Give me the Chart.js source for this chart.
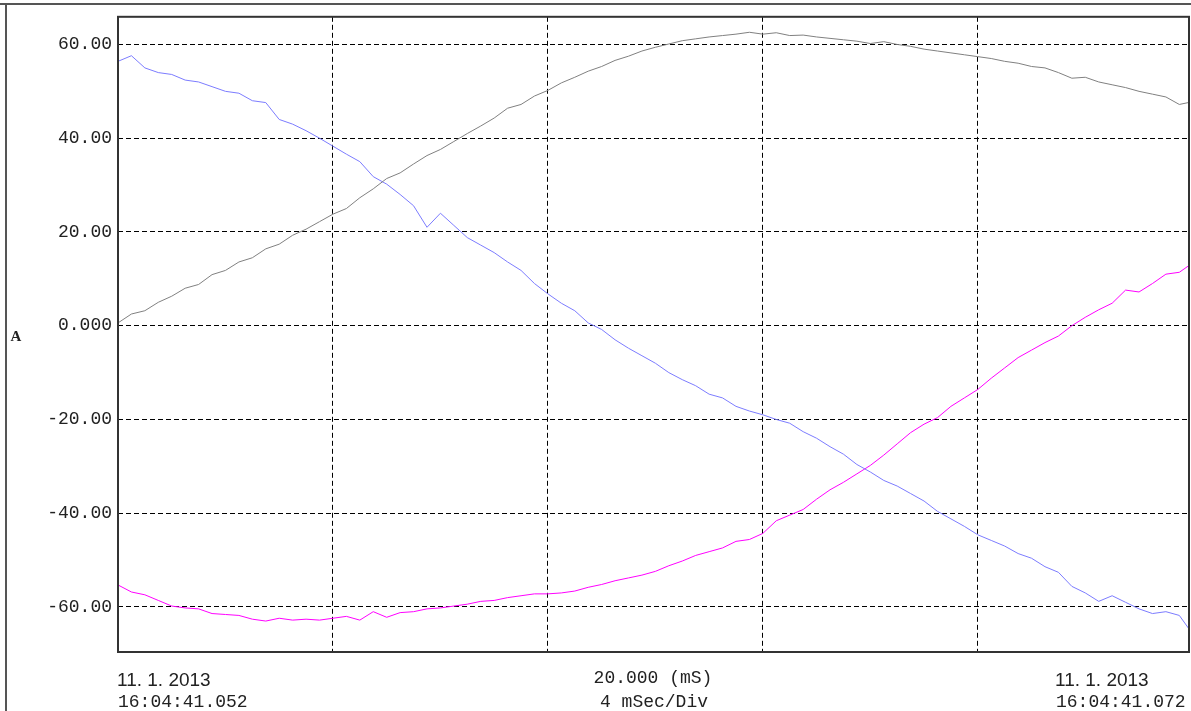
<!DOCTYPE html>
<html>
<head>
<meta charset="utf-8">
<script src="https://cdn.jsdelivr.net/npm/chart.js@4/dist/chart.umd.min.js"></script>
<style>
  body { margin: 0; background: #fff; }
  #wrap { width: 1191px; height: 711px; }
</style>
</head>
<body>
<div id="wrap"><canvas id="scope" width="1191" height="711"></canvas></div>
<script>
// time in ms, one sample every 0.25 ms
var times = [0,0.25,0.5,0.75,1,1.25,1.5,1.75,2,2.25,2.5,2.75,3,3.25,3.5,3.75,4,4.25,4.5,4.75,
  5,5.25,5.5,5.75,6,6.25,6.5,6.75,7,7.25,7.5,7.75,8,8.25,8.5,8.75,9,9.25,9.5,9.75,
  10,10.25,10.5,10.75,11,11.25,11.5,11.75,12,12.25,12.5,12.75,13,13.25,13.5,13.75,14,14.25,14.5,14.75,
  15,15.25,15.5,15.75,16,16.25,16.5,16.75,17,17.25,17.5,17.75,18,18.25,18.5,18.75,19,19.25,19.5,19.75,20];

var grayA = [0.6,2.5,3.2,5.0,6.3,8.0,8.8,10.9,11.8,13.6,14.5,16.4,17.4,19.3,20.6,22.2,23.8,25.0,27.3,29.2,
  31.4,32.6,34.5,36.3,37.6,39.3,41.0,42.6,44.3,46.4,47.2,49.0,50.2,51.8,53.0,54.3,55.3,56.6,57.5,58.6,
  59.4,60.1,60.8,61.2,61.6,61.9,62.2,62.6,62.2,62.5,61.9,62.0,61.6,61.3,61.0,60.7,60.2,60.6,60.0,59.6,
  59.0,58.6,58.2,57.8,57.4,57.0,56.4,56.0,55.3,55.0,54.0,52.8,53.0,52.0,51.4,50.8,50.0,49.4,48.8,47.2,47.8];

var blueA = [56.4,57.6,55.0,54.0,53.6,52.4,52.0,51.0,50.0,49.6,48.0,47.6,44.0,43.0,41.6,40.0,38.3,36.6,35.0,31.8,
  30.2,28.0,25.6,21.0,24.0,21.4,18.8,17.2,15.6,13.6,11.8,9.0,6.8,4.8,3.2,0.6,-0.8,-3.0,-4.8,-6.4,
  -8.0,-10.0,-11.5,-12.8,-14.6,-15.4,-17.2,-18.2,-19.0,-20.0,-20.8,-22.6,-24.0,-25.8,-27.4,-29.6,-31.2,-33.0,-34.2,-35.8,
  -37.4,-39.6,-41.2,-42.8,-44.6,-45.8,-47.0,-48.6,-49.6,-51.4,-52.6,-55.6,-57.0,-58.8,-57.6,-59.0,-60.4,-61.4,-61.0,-61.8,-65.8];

var magentaA = [-55.3,-56.8,-57.4,-58.6,-59.8,-60.2,-60.4,-61.4,-61.6,-61.8,-62.6,-63.0,-62.4,-62.8,-62.6,-62.8,-62.4,-62.0,-62.8,-61.0,
  -62.2,-61.2,-61.0,-60.4,-60.2,-59.8,-59.4,-58.8,-58.6,-58.0,-57.6,-57.2,-57.2,-57.0,-56.6,-55.8,-55.2,-54.4,-53.8,-53.2,
  -52.4,-51.2,-50.2,-49.0,-48.2,-47.4,-46.0,-45.6,-44.3,-41.6,-40.4,-39.2,-37.0,-35.0,-33.4,-31.6,-29.8,-27.6,-25.2,-22.8,
  -21.0,-19.6,-17.2,-15.4,-13.6,-11.2,-9.0,-6.8,-5.2,-3.6,-2.2,0.0,1.8,3.4,4.8,7.6,7.2,9.0,11.0,11.4,13.4];

var yTicks = [-60, -40, -20, 0, 20, 40, 60];
var yTickLabels = ['-60.00', '-40.00', '-20.00', '0.000', '20.00', '40.00', '60.00'];

function pts(vals) {
  return vals.map(function (v, i) { return { x: times[i], y: v }; });
}

var scopeFrame = {
  id: 'scopeFrame',
  afterDraw: function (chart) {
    var c = chart.ctx, a = chart.chartArea;
    c.save();
    // outer window lines
    c.strokeStyle = '#555';
    c.lineWidth = 2;
    c.beginPath();
    c.moveTo(0, 4); c.lineTo(1191, 4);
    c.moveTo(6, 4); c.lineTo(6, 711);
    c.stroke();
    // plot border
    c.strokeStyle = '#333';
    c.lineWidth = 2;
    c.strokeRect(a.left, a.top, a.right - a.left, a.bottom - a.top);
    // unit label
    c.fillStyle = '#222';
    c.font = 'bold 15px "Liberation Serif"';
    c.textAlign = 'center';
    c.textBaseline = 'middle';
    c.fillText('A', 16, 337);
    // bottom texts
    c.textBaseline = 'alphabetic';
    c.textAlign = 'left';
    c.font = '19px "Liberation Sans"';
    c.fillText('11. 1. 2013', 117, 686);
    c.fillText('11. 1. 2013', 1055, 686);
    c.font = '18px "Liberation Mono"';
    c.fillText('16:04:41.052', 118, 707);
    c.fillText('16:04:41.072', 1056, 707);
    c.textAlign = 'center';
    c.fillText('20.000 (mS)', 653, 683);
    c.fillText('4 mSec/Div', 654, 707);
    c.restore();
  }
};

new Chart('scope', {
  type: 'line',
  data: {
    datasets: [
      { data: pts(grayA), borderColor: '#808080' },
      { data: pts(blueA), borderColor: '#7c7cff' },
      { data: pts(magentaA), borderColor: '#ff00ff' }
    ]
  },
  options: {
    responsive: false,
    animation: false,
    layout: { padding: { top: 15, right: 2, left: 0, bottom: 0 } },
    elements: {
      point: { radius: 0 },
      line: { borderWidth: 1, tension: 0 }
    },
    plugins: { legend: { display: false }, tooltip: { enabled: false } },
    scales: {
      x: {
        type: 'linear',
        min: 0, max: 19.93,
        afterBuildTicks: function (s) {
          s.ticks = [0, 4, 8, 12, 16].map(function (v) { return { value: v }; });
        },
        ticks: { display: false },
        grid: { color: '#000', lineWidth: 1, drawTicks: false },
        border: { display: false, dash: [5, 3] },
        afterFit: function (s) { s.height = 59; }
      },
      y: {
        min: -69.6, max: 65.9,
        afterBuildTicks: function (s) {
          s.ticks = yTicks.map(function (v) { return { value: v }; });
        },
        ticks: {
          padding: 6,
          color: '#222',
          font: { family: '"Liberation Mono"', size: 18 },
          callback: function (v) { return yTickLabels[yTicks.indexOf(v)]; }
        },
        grid: { color: '#000', lineWidth: 1, drawTicks: false },
        border: { display: false, dash: [5, 3] },
        afterFit: function (s) { s.width = 118; }
      }
    }
  },
  plugins: [scopeFrame]
});
</script>
</body>
</html>
